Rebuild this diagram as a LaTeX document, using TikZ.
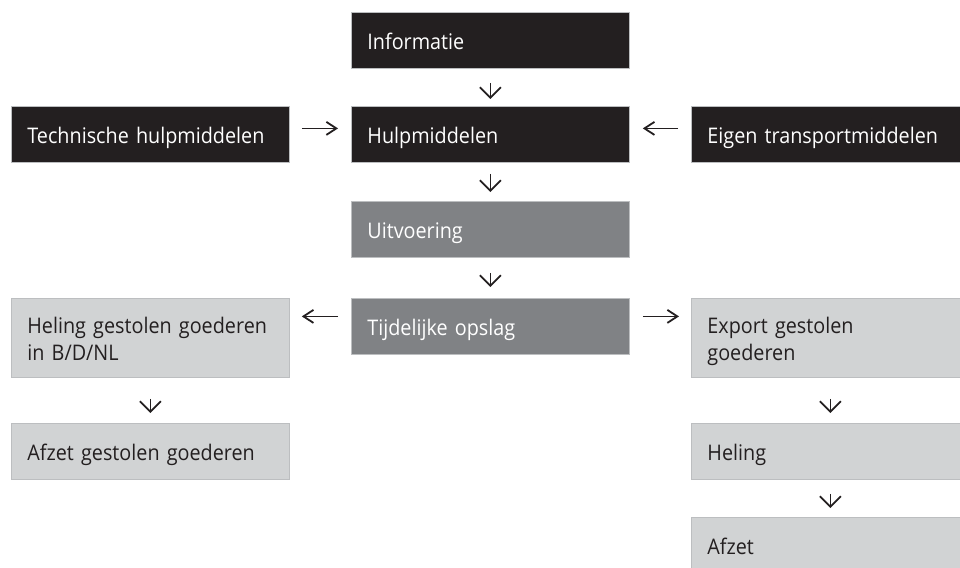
\documentclass[tikz,border=0pt]{standalone}
\usepackage{fontspec}
\setmainfont[FakeStretch=0.92]{Open Sans}
\usetikzlibrary{arrows.meta}
\definecolor{boxblack}{HTML}{231F20}
\definecolor{boxmid}{HTML}{808285}
\definecolor{boxlight}{HTML}{D1D3D4}
\definecolor{boxline}{HTML}{BCBEC0}
\begin{document}
\begin{tikzpicture}[x=1pt,y=-1pt,
  box/.style={draw=boxline, line width=0.8pt, minimum width=278pt, minimum height=56pt,
    anchor=north west, inner xsep=16pt, inner ysep=0pt, text width=246pt, align=left,
    font=\fontsize{21.5}{27}\selectfont,
    execute at begin node={\rule[-6pt]{0pt}{30pt}},
    execute at end node={\rule[-6pt]{0pt}{6pt}}},
  blk/.style={box, fill=boxblack, text=white},
  mid/.style={box, fill=boxmid, text=white},
  lgt/.style={box, fill=boxlight, text=boxblack},
  varr/.style={draw=boxblack, line width=1.8pt,
    -{Straight Barb[length=10.5pt,width=21pt,line width=1.8pt]}},
  harr/.style={draw=boxblack, line width=1.8pt,
    -{Straight Barb[length=10pt,width=13pt,line width=1.8pt]}}
]
\useasboundingbox[fill=white] (0,0) rectangle (960,567);
\clip (0,0) rectangle (960,567);

\node[blk] (info) at (351,12) {Informatie};
\node[blk] (tech) at (11,106) {Technische hulpmiddelen};
\node[blk] (hulp) at (351,106) {Hulpmiddelen};
\node[blk] (eigen) at (691,106) {Eigen transportmiddelen};
\node[mid] (uitv) at (351,201) {Uitvoering};
\node[mid] (tijd) at (351,298) {Tijdelijke opslag};
\node[lgt, minimum height=79pt] (helg) at (11,298) {\mbox{Heling gestolen goederen}\\in B/D/NL};
\node[lgt, minimum height=79pt] (exp) at (691,298) {Export gestolen\\goederen};
\node[lgt] (afzg) at (11,423) {Afzet gestolen goederen};
\node[lgt] (hel) at (691,423) {Heling};
\node[lgt] (afz) at (691,517) {Afzet};

% vertical arrows
\draw[varr, shorten <=14pt, shorten >=7pt] (info.south) -- (hulp.north);
\draw[varr, shorten <=11pt, shorten >=9pt] (hulp.south) -- (uitv.north);
\draw[varr, shorten <=15pt, shorten >=11pt] (uitv.south) -- (tijd.north);
\draw[varr, shorten <=21pt, shorten >=10pt] (helg.south) -- (afzg.north);
\draw[varr, shorten <=21pt, shorten >=10pt] (exp.south) -- (hel.north);
\draw[varr, shorten <=14pt, shorten >=9pt] (hel.south) -- (afz.north);

% horizontal arrows
\draw[harr, shorten <=12pt, shorten >=13pt] ([yshift=6pt]tech.east) -- ([yshift=6pt]hulp.west);
\draw[harr, shorten <=13pt, shorten >=13pt] ([yshift=6pt]eigen.west) -- ([yshift=6pt]hulp.east);
\draw[harr, shorten <=13pt, shorten >=12pt] ([yshift=10pt]tijd.west) -- ([yshift=10pt]helg.east |- tijd.west);
\draw[harr, shorten <=13pt, shorten >=12pt] ([yshift=10pt]tijd.east) -- ([yshift=10pt]exp.west |- tijd.east);
\end{tikzpicture}
\end{document}
